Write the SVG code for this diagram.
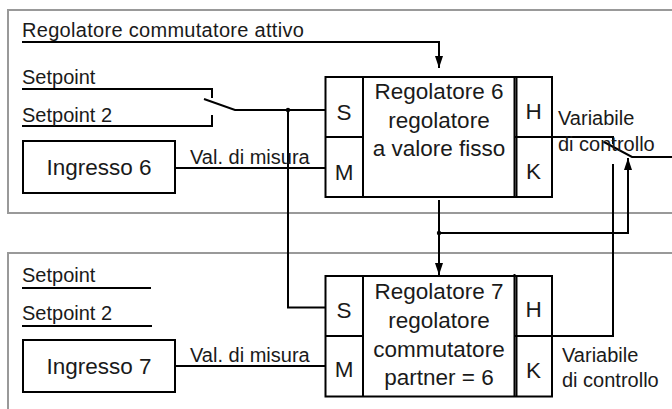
<svg xmlns="http://www.w3.org/2000/svg" width="672" height="409" viewBox="0 0 672 409">
<style>
  .frame { fill: none; stroke: #999; stroke-width: 2; }
  .box { fill: #fff; stroke: #000; stroke-width: 2; }
  .ln { fill: none; stroke: #000; stroke-width: 2; }
  .t { font-family: "Liberation Sans", Arial, sans-serif; fill: #1a1a1a; }
  .lbl { font-size: 20px; }
  .big { font-size: 22.5px; text-anchor: middle; }
</style>
<defs>
  <marker id="arr" viewBox="0 0 12 8" refX="12" refY="4" markerWidth="12" markerHeight="8" markerUnits="userSpaceOnUse" orient="auto">
    <path d="M0,0 L12,4 L0,8 Z" fill="#000"/>
  </marker>
</defs>
<rect width="672" height="409" fill="#fff"/>
<g id="frames">
  <path class="frame" d="M680,10 H8 V213 H680"/>
  <path class="frame" d="M680,253 H8 V420"/>
</g>
<g id="connectors">
  <path class="ln" d="M22,42 H439 V68" marker-end="url(#arr)"/>
  <path class="ln" d="M22,89 H212 V98"/>
  <path class="ln" d="M22,126 H212 V115"/>
  <path class="ln" d="M204,99 L235,110 H325"/>
  <circle cx="288" cy="110" r="2.2" fill="#000"/>
  <path class="ln" d="M288,110 V307.5 H325"/>
  <path class="ln" d="M175,168 H325"/>
  <path class="ln" d="M175,366 H325"/>
  <path class="ln" d="M22,288 H151"/>
  <path class="ln" d="M22,326 H152"/>
  <path class="ln" d="M439,200 V275" marker-end="url(#arr)"/>
  <circle cx="439" cy="233" r="2.2" fill="#000"/>
  <path class="ln" d="M439,233 H628 V158" marker-end="url(#arr)"/>
  <path class="ln" d="M552,137 H613 V144"/>
  <path class="ln" d="M604,142 L632,157 H672"/>
  <path class="ln" d="M552,336 H613 V164"/>
</g>
<g id="labels">
  <text class="t lbl" x="22" y="37" letter-spacing="0.3">Regolatore commutatore attivo</text>
  <text class="t lbl" x="22" y="84">Setpoint</text>
  <text class="t lbl" x="22" y="121.5">Setpoint 2</text>
  <text class="t lbl" x="190" y="163.5">Val. di misura</text>
  <text class="t lbl" x="558" y="125">Variabile</text>
  <text class="t lbl" x="558" y="151">di controllo</text>
  <text class="t lbl" x="22" y="282">Setpoint</text>
  <text class="t lbl" x="22" y="319.5">Setpoint 2</text>
  <text class="t lbl" x="190" y="361.5">Val. di misura</text>
  <text class="t lbl" x="562" y="362">Variabile</text>
  <text class="t lbl" x="562" y="387">di controllo</text>
</g>
<g id="ingresso6">
  <rect class="box" x="23" y="141" width="152" height="52"/>
  <text class="t big" x="99" y="175">Ingresso 6</text>
</g>
<g id="ingresso7">
  <rect class="box" x="23" y="340" width="152" height="52"/>
  <text class="t big" x="99" y="374">Ingresso 7</text>
</g>
<g id="regolatore6">
  <rect class="box" x="325.5" y="77" width="226.5" height="120"/>
  <path class="ln" d="M363,77 V197 M325.5,137 H363 M514.5,77 V197 M552,137 H514.5"/>
  <path class="ln" d="M516.5,77 V197"/>
  <text class="t big" x="344" y="120">S</text>
  <text class="t big" x="344" y="180">M</text>
  <text class="t big" x="533.5" y="118.5">H</text>
  <text class="t big" x="533.5" y="178.5">K</text>
  <text class="t big" x="439" y="99">Regolatore 6</text>
  <text class="t big" x="439" y="127.5">regolatore</text>
  <text class="t big" x="439" y="156">a valore fisso</text>
</g>
<g id="regolatore7">
  <rect class="box" x="325.5" y="276" width="226.5" height="120.5"/>
  <path class="ln" d="M363,276 V396.5 M325.5,336 H363 M514.5,274 V396.5 M552,336 H514.5"/>
  <path class="ln" d="M516.5,276 V396.5"/>
  <text class="t big" x="344" y="317.5">S</text>
  <text class="t big" x="344" y="377">M</text>
  <text class="t big" x="533.5" y="317">H</text>
  <text class="t big" x="533.5" y="378">K</text>
  <text class="t big" x="439" y="299">Regolatore 7</text>
  <text class="t big" x="439" y="328">regolatore</text>
  <text class="t big" x="439" y="356.5">commutatore</text>
  <text class="t big" x="439" y="385">partner = 6</text>
</g>
</svg>
